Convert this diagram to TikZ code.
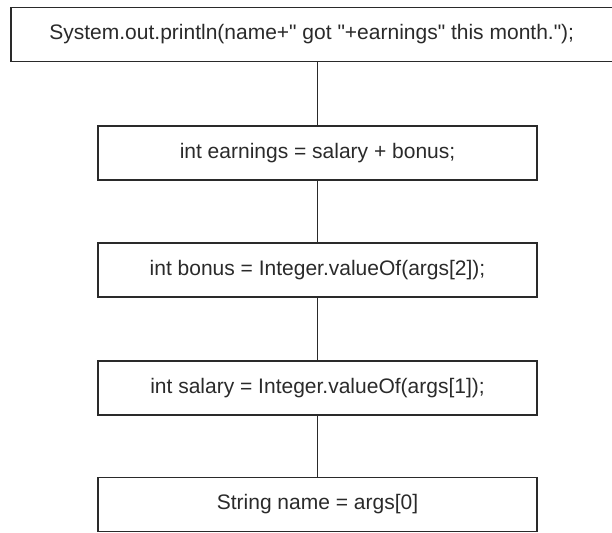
\documentclass[tikz,border=0pt]{standalone}
\usepackage{fontspec}
\setmainfont{Liberation Sans}
\definecolor{ink}{HTML}{2A2A2A}
\begin{document}
\begin{tikzpicture}[x=1pt,y=-1pt,
  stmt/.style={draw=ink,line width=1.3pt,minimum height=54pt,inner sep=0pt,text=ink,font=\fontsize{21}{25}\selectfont},
  link/.style={draw=ink,line width=1.2pt}]
\useasboundingbox (0,0) rectangle (612,532);
\node[stmt,minimum width=601.5pt] (p) at (311.75,34.5) {System.out.println(name+\textquotedbl{} got \textquotedbl{}+earnings\textquotedbl{} this month.\textquotedbl{});};
\node[stmt,minimum width=439pt] (e) at (317.5,153) {int earnings = salary + bonus;};
\node[stmt,minimum width=439pt] (b) at (317.5,270) {int bonus = Integer.valueOf(args[2]);};
\node[stmt,minimum width=439pt] (s) at (317.5,388) {int salary = Integer.valueOf(args[1]);};
\node[stmt,minimum width=439pt] (n) at (317.5,504.5) {String name = args[0]};
\draw[link] (p.south -| e.north) -- (e.north);
\draw[link] (e) -- (b);
\draw[link] (b) -- (s);
\draw[link] (s) -- (n);
\end{tikzpicture}
\end{document}
